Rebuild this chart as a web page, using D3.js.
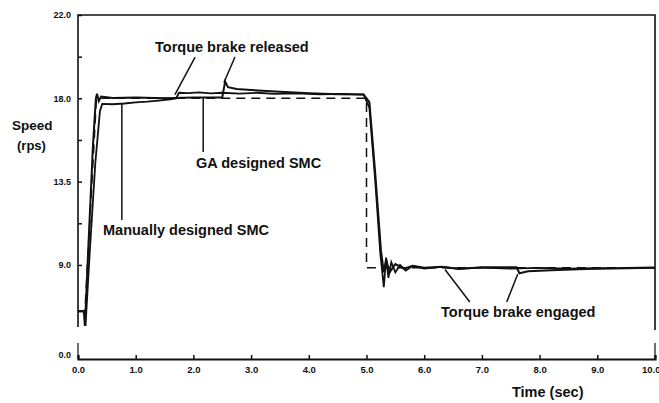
<!DOCTYPE html>
<html>
<head>
<meta charset="utf-8">
<script src="https://cdn.jsdelivr.net/npm/d3@7"></script>
<style>
  body { margin: 0; background: #fff; }
  text { font-family: "Liberation Sans", Arial, sans-serif; font-weight: bold; fill: #111; }
</style>
</head>
<body>
<div id="chart"></div>
<script>
// Tick values and labels
var xTicks = [0, 1, 2, 3, 4, 5, 6, 7, 8, 9, 10];
var xTickLabels = ["0.0", "1.0", "2.0", "3.0", "4.0", "5.0", "6.0", "7.0", "8.0", "9.0", "10.0"];
var yTicks = [9, 11.25, 13.5, 15.75, 18, 20.25, 22.5];
var yTickLabels = ["9.0", "", "13.5", "", "18.0", "", "22.0"];

// Reference speed (dashed)
var refTime  = [0.0, 0.12, 0.32, 5.0, 5.0, 10.0];
var refSpeed = [6.5, 6.5, 18.0, 18.0, 8.85, 8.85];

// Manually designed SMC
var manTime  = [0.0, 0.12, 0.13, 0.2, 0.3, 0.38, 0.42, 0.6, 0.8, 1.0, 1.2, 1.4, 1.6, 1.7, 1.75, 1.9, 2.1, 2.3, 2.5, 2.8, 3.1, 3.4, 3.8, 4.2, 4.6, 4.95, 5.05, 5.15, 5.24, 5.3, 5.34, 5.38, 5.43, 5.5, 5.58, 5.68, 5.8, 6.0, 6.3, 6.6, 7.0, 7.5, 8.0, 8.5, 9.0, 9.5, 10.0];
var manSpeed = [6.5, 6.5, 5.7, 9.5, 14.5, 17.3, 17.7, 17.68, 17.72, 17.78, 17.82, 17.88, 17.95, 18.0, 18.3, 18.28, 18.32, 18.27, 18.3, 18.25, 18.3, 18.24, 18.27, 18.22, 18.24, 18.2, 17.5, 13.6, 9.6, 7.8, 9.4, 8.3, 9.15, 8.6, 9.0, 8.7, 8.95, 8.8, 8.9, 8.8, 8.85, 8.8, 8.84, 8.8, 8.83, 8.82, 8.84];

// GA designed SMC
var gaTime  = [0.0, 0.1, 0.12, 0.18, 0.26, 0.31, 0.33, 0.36, 0.4, 0.6, 1.0, 1.5, 2.0, 2.5, 2.55, 2.6, 2.75, 3.0, 3.5, 4.0, 4.5, 4.95, 5.05, 5.15, 5.25, 5.3, 5.34, 5.4, 5.5, 5.65, 5.8, 6.0, 6.3, 6.6, 7.0, 7.6, 7.65, 7.8, 8.2, 8.8, 9.5, 10.0];
var gaSpeed = [6.5, 6.5, 5.7, 10.0, 15.5, 18.0, 18.25, 17.85, 18.1, 18.02, 18.05, 18.0, 18.05, 18.05, 18.9, 18.6, 18.5, 18.45, 18.35, 18.28, 18.22, 18.2, 17.8, 14.0, 9.8, 8.6, 9.3, 8.6, 9.05, 8.8, 8.95, 8.85, 8.9, 8.78, 8.88, 8.88, 8.55, 8.66, 8.72, 8.78, 8.83, 8.86];

var svgWidth = 659;
var svgHeight = 403;

var svg = d3.select("#chart")
    .append("svg")
    .attr("width", svgWidth)
    .attr("height", svgHeight);

// scales (y axis is broken below 9.0, origin drawn at the bottom)
var xScale = d3.scaleLinear().domain([0, 10]).range([78, 655]);
var yScale = d3.scaleLinear().domain([3.92, 22.5]).range([359, 15]);

var plotLeft = xScale(0), plotRight = xScale(10), plotTop = yScale(22.5), plotBottom = yScale(3.92);

// frame: top, left and right edges with a break near the bottom
svg.append("path")
    .attr("d", `M${plotLeft},327 V${plotTop} H${plotRight} V330`)
    .attr("fill", "none")
    .attr("stroke", "#111")
    .attr("stroke-width", 1.6);
svg.append("line").attr("x1", plotLeft).attr("x2", plotLeft).attr("y1", 343).attr("y2", plotBottom)
    .attr("stroke", "#111").attr("stroke-width", 1.2);
svg.append("line").attr("x1", plotRight).attr("x2", plotRight).attr("y1", 343).attr("y2", plotBottom)
    .attr("stroke", "#111").attr("stroke-width", 1.2);

// x axis
var xAxis = d3.axisBottom(xScale)
    .tickValues(xTicks)
    .tickSize(-4)
    .tickPadding(7)
    .tickFormat((d, i) => xTickLabels[i]);
var gx = svg.append("g")
    .attr("transform", `translate(0, ${plotBottom})`)
    .call(xAxis);
gx.select(".domain").attr("stroke", "#111").attr("stroke-width", 2.2);
gx.selectAll(".tick line").attr("stroke", "#111").attr("stroke-width", 1.5);
gx.selectAll(".tick text").attr("font-size", "9.5px").attr("font-family", "DejaVu Sans").attr("font-weight", "bold");
// last label sits against the right edge
gx.selectAll(".tick text").filter((d, i) => i === xTicks.length - 1)
    .attr("text-anchor", "end").attr("dx", "5");

// y axis
var yAxis = d3.axisLeft(yScale)
    .tickValues(yTicks)
    .tickSize(-4)
    .tickPadding(7)
    .tickFormat((d, i) => yTickLabels[i]);
var gy = svg.append("g")
    .attr("transform", `translate(${plotLeft}, 0)`)
    .call(yAxis);
gy.select(".domain").remove();
gy.selectAll(".tick line").attr("stroke", "#111").attr("stroke-width", 1.5);
gy.selectAll(".tick text").attr("font-size", "9px").attr("font-family", "DejaVu Sans").attr("font-weight", "bold");

// origin label of the broken axis
svg.append("text")
    .attr("x", plotLeft - 7)
    .attr("y", plotBottom - 1)
    .attr("text-anchor", "end")
    .attr("font-family", "DejaVu Sans")
    .attr("font-size", "9px")
    .text("0.0");

// curves
var line = d3.line()
    .x(d => xScale(d[0]))
    .y(d => yScale(d[1]));

svg.append("path")
    .datum(d3.zip(refTime, refSpeed))
    .attr("d", line)
    .attr("fill", "none")
    .attr("stroke", "#111")
    .attr("stroke-width", 1.5)
    .attr("stroke-dasharray", "9,6");

svg.append("path")
    .datum(d3.zip(manTime, manSpeed))
    .attr("d", line)
    .attr("fill", "none")
    .attr("stroke", "#111")
    .attr("stroke-width", 1.8);

svg.append("path")
    .datum(d3.zip(gaTime, gaSpeed))
    .attr("d", line)
    .attr("fill", "none")
    .attr("stroke", "#111")
    .attr("stroke-width", 2);

// annotation pointers, in data units [t, speed]
var pointers = [
    [[2.03, 20.23], [1.68, 18.2]],
    [[2.72, 20.23], [2.53, 18.85]],
    [[2.17, 18.07], [2.17, 15.1]],
    [[0.76, 17.69], [0.76, 11.43]],
    [[6.79, 7.0], [6.36, 8.75]],
    [[7.43, 7.0], [7.62, 8.5]]
];
svg.selectAll(".pointer")
    .data(pointers)
    .enter()
    .append("line")
    .attr("class", "pointer")
    .attr("x1", d => xScale(d[0][0]))
    .attr("y1", d => yScale(d[0][1]))
    .attr("x2", d => xScale(d[1][0]))
    .attr("y2", d => yScale(d[1][1]))
    .attr("stroke", "#111")
    .attr("stroke-width", 1.5);

// labels
function label(x, y, txt, size) {
    svg.append("text")
        .attr("x", x)
        .attr("y", y)
        .attr("font-size", size)
        .text(txt);
}
label(155, 52, "Torque brake released", "14.5px");
label(196, 168, "GA designed SMC", "14.5px");
label(103, 235, "Manually designed SMC", "14.5px");
label(441, 317, "Torque brake engaged", "14.5px");
label(512, 397, "Time (sec)", "14.5px");
label(12, 130, "Speed", "13.5px");
label(17, 150, "(rps)", "13px");
</script>
</body>
</html>
